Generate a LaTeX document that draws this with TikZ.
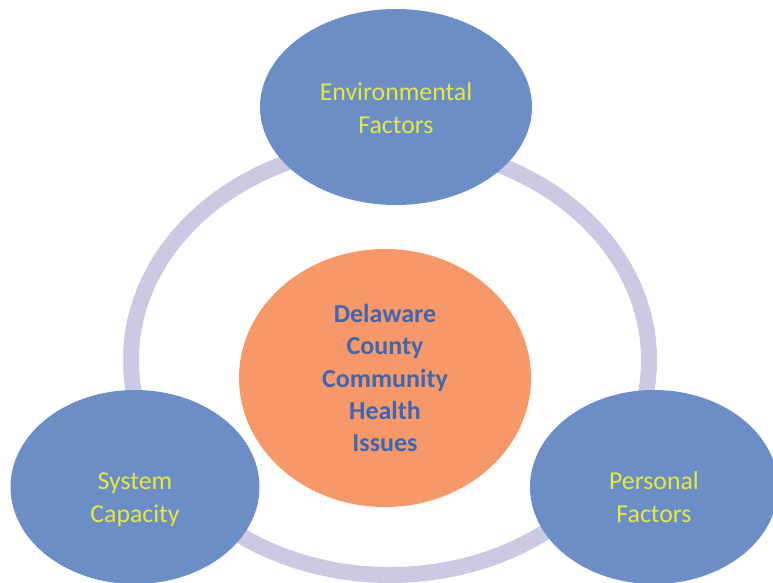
\documentclass[tikz,border=0pt]{standalone}
\usepackage{fontspec}
\setmainfont{Carlito}
\usepackage{xcolor}
\usepackage{tikz}
\usetikzlibrary{shapes.geometric}
\usetikzlibrary{positioning}

\definecolor{bubbleblue}{HTML}{6C8EC6}
\definecolor{ringlilac}{HTML}{CBC9E4}
\definecolor{coreorange}{HTML}{F69868}
\definecolor{labelyellow}{HTML}{E8E83C}
\definecolor{coretext}{HTML}{3F67B1}

\tikzset{
  bubble/.style={ellipse, fill=bubbleblue, inner sep=0pt},
  factor/.style={align=center, text=labelyellow,
    font=\fontsize{25.8}{33}\selectfont},
  coretxt/.style={align=center, text=coretext,
    font=\fontsize{26}{32.3}\selectfont\bfseries},
}

\begin{document}
\begin{tikzpicture}[x=1pt,y=-1pt]
       \useasboundingbox (0,0) rectangle (773,583);
       \clip (0,0) rectangle (773,583);
       
       % the ring behind everything
       \coordinate (R) at (390,360);
       \draw[ringlilac, line width=16pt] (R) ellipse [x radius=259pt, y radius=215pt];
       
       % centre
       \node[ellipse, fill=coreorange, inner sep=0pt,
             minimum width=292pt, minimum height=258pt] (core) at (385,378) {};
       \node[coretxt] (coretitle) at (core.center)
             {Delaware\\County\\Community\\Health\\Issues};
       
       % the three factors
       \node[bubble, minimum width=272pt, minimum height=196pt] (env) at (396,107) {};
       \node[factor] (envtxt) at ([yshift=-1pt]env.center) {Environmental\\Factors};
       
       \node[bubble, minimum width=249pt, minimum height=194pt] (sys) at (135,487) {};
       \node[factor] (systxt) at ([yshift=-13pt]sys.center) {System\\Capacity};
       
       \node[bubble, minimum width=248pt, minimum height=194pt] (pers) at (654,487) {};
       \node[factor] (perstxt) at ([yshift=-10pt]pers.center) {Personal\\Factors};
\end{tikzpicture}
\end{document}
